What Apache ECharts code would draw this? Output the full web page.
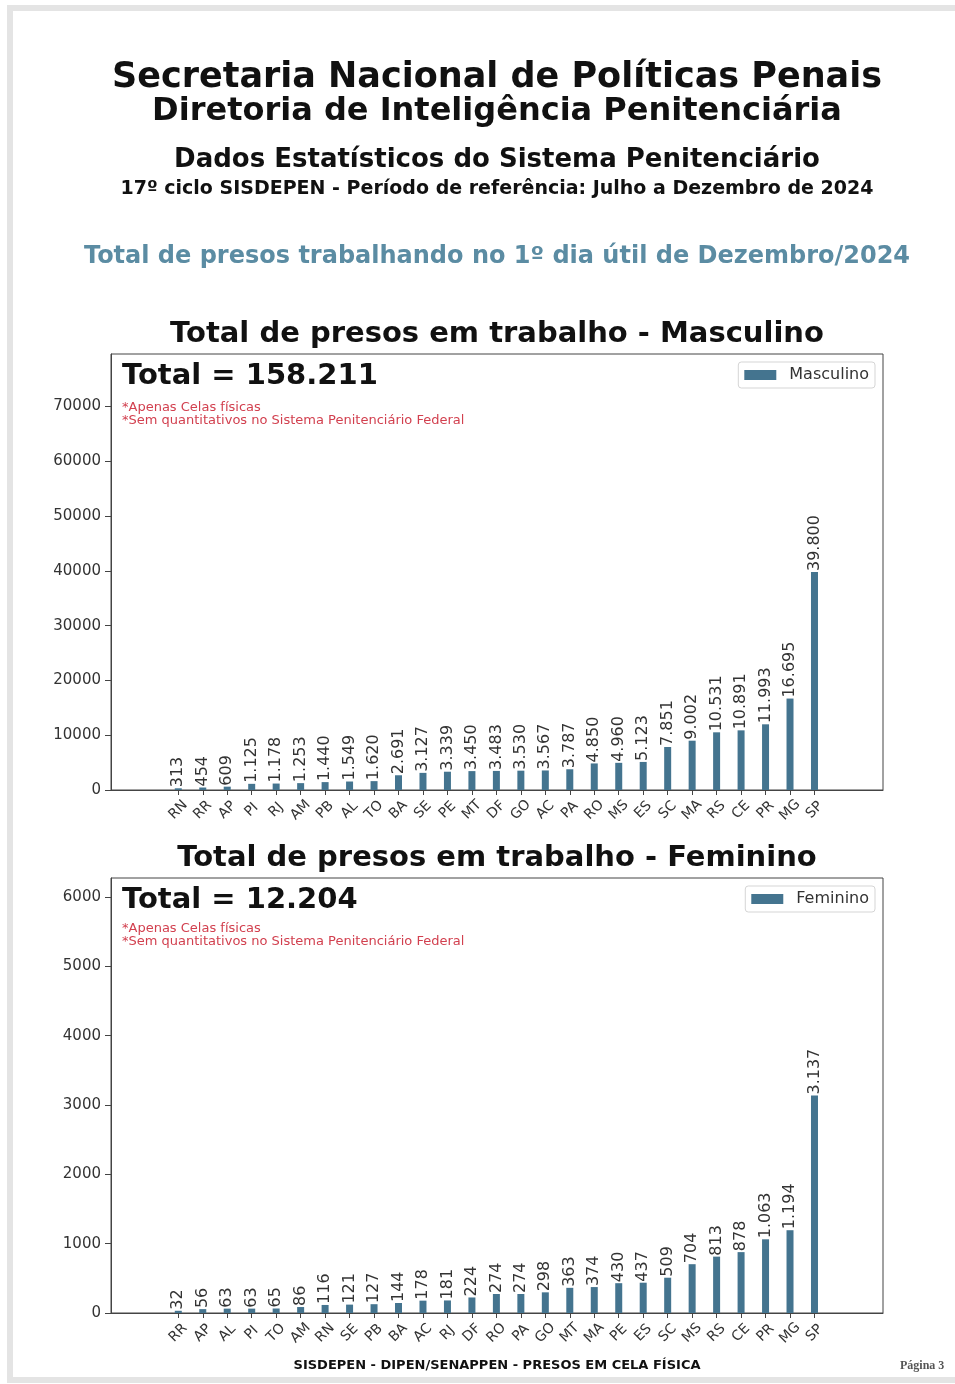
<!DOCTYPE html>
<html>
<head>
<meta charset="utf-8">
<script src="https://cdn.jsdelivr.net/npm/echarts@6/dist/echarts.min.js"></script>
<style>
html,body{margin:0;padding:0;background:#fff;}
#c{width:955px;height:1384px;}
</style>
</head>
<body>
<div id="c"></div>
<script>
// ---- data ----
const mascCategories = ['RN','RR','AP','PI','RJ','AM','PB','AL','TO','BA','SE','PE','MT','DF','GO','AC','PA','RO','MS','ES','SC','MA','RS','CE','PR','MG','SP'];
const mascValues = [313,454,609,1125,1178,1253,1440,1549,1620,2691,3127,3339,3450,3483,3530,3567,3787,4850,4960,5123,7851,9002,10531,10891,11993,16695,39800];
const femCategories = ['RR','AP','AL','PI','TO','AM','RN','SE','PB','BA','AC','RJ','DF','RO','PA','GO','MT','MA','PE','ES','SC','MS','RS','CE','PR','MG','SP'];
const femValues = [32,56,63,63,65,86,116,121,127,144,178,181,224,274,274,298,363,374,430,437,509,704,813,878,1063,1194,3137];
const mascYTicks = [0,10000,20000,30000,40000,50000,60000,70000];
const femYTicks = [0,1000,2000,3000,4000,5000,6000];
const headerLines = [
  'Secretaria Nacional de Políticas Penais',
  'Diretoria de Inteligência Penitenciária',
  'Dados Estatísticos do Sistema Penitenciário',
  '17º ciclo SISDEPEN - Período de referência: Julho a Dezembro de 2024'
];
const sectionTitle = 'Total de presos trabalhando no 1º dia útil de Dezembro/2024';
const mascTitle = 'Total de presos em trabalho - Masculino';
const femTitle = 'Total de presos em trabalho - Feminino';
const notes = ['*Apenas Celas físicas', '*Sem quantitativos no Sistema Penitenciário Federal'];
const footer = 'SISDEPEN - DIPEN/SENAPPEN - PRESOS EM CELA FÍSICA';
const pageLabel = 'Página 3';

// ---- helpers ----
const FONT = "'DejaVu Sans', sans-serif";
const BAR = '#44748f';
const AXIS = '#444';
const fmt = v => String(v).replace(/\B(?=(\d{3})+(?!\d))/g, '.');
const sum = a => a.reduce((s, v) => s + v, 0);
const idx = a => a.map((_, i) => i);

function txt(x, y, text, size, opts) {
  opts = opts || {};
  return {
    type: 'text', x: x, y: y, silent: true,
    style: {
      text: text, fontSize: size, fontFamily: opts.family || FONT,
      fontWeight: opts.weight || 'bold', fill: opts.fill || '#111',
      align: opts.align || 'center', verticalAlign: 'middle'
    }
  };
}

function xAxisFor(gridIndex, cats) {
  return {
    type: 'value', gridIndex: gridIndex, min: -2.75, max: cats.length - 1 + 2.8,
    splitLine: { show: false },
    axisLine: { show: true, onZero: false, lineStyle: { color: AXIS, width: 1 } },
    axisTick: { show: true, length: 5, customValues: idx(cats), lineStyle: { color: AXIS } },
    axisLabel: {
      customValues: idx(cats), rotate: 45, align: 'center', verticalAlign: 'middle',
      margin: 20, fontSize: 14, color: '#333', fontFamily: FONT,
      formatter: v => cats[Math.round(v)]
    }
  };
}
function yAxisFor(gridIndex, values, ticks) {
  return {
    type: 'value', gridIndex: gridIndex, min: 0, max: Math.max.apply(null, values) * 2,
    splitLine: { show: false },
    axisLine: { show: true, onZero: false, lineStyle: { color: AXIS, width: 1 } },
    axisTick: { show: true, length: 6, customValues: ticks, lineStyle: { color: AXIS } },
    axisLabel: { customValues: ticks, fontSize: 15, color: '#333', fontFamily: FONT, margin: 10,
      formatter: v => String(v) }
  };
}
function barSeries(name, i, values) {
  return {
    type: 'bar', name: name, xAxisIndex: i, yAxisIndex: i, barWidth: 7,
    itemStyle: { color: BAR },
    data: values.map((v, k) => [k, v])
  };
}
function labelSeries(i, values) {
  return {
    type: 'custom', xAxisIndex: i, yAxisIndex: i, silent: true, z: 5,
    data: values.map((v, k) => [k, v]),
    renderItem: function (params, api) {
      const pt = api.coord([api.value(0), api.value(1)]);
      return {
        type: 'text', x: pt[0], y: pt[1] - 1, rotation: Math.PI / 2,
        style: { text: fmt(api.value(1)), fontSize: 16, fontFamily: FONT, fill: '#333',
          align: 'left', verticalAlign: 'middle' }
      };
    }
  };
}
function legendFor(name, top) {
  return {
    data: [name], right: 80, top: top, orient: 'horizontal',
    itemWidth: 32, itemHeight: 10, icon: 'rect', itemGap: 8,
    padding: [5, 6, 5, 6], borderColor: '#d5d5d5', borderWidth: 1, borderRadius: 3,
    backgroundColor: '#fff',
    textStyle: { fontSize: 16, color: '#333', fontFamily: FONT, padding: [0, 0, 0, 8] }
  };
}

const chart = echarts.init(document.getElementById('c'), null, { renderer: 'canvas' });
chart.setOption({
  animation: false,
  backgroundColor: '#fff',
  grid: [
    { left: 111, right: 72, top: 354, bottom: 594, show: true, borderColor: AXIS, borderWidth: 1, backgroundColor: 'transparent' },
    { left: 111, right: 72, top: 878, bottom: 71, show: true, borderColor: AXIS, borderWidth: 1, backgroundColor: 'transparent' }
  ],
  legend: [legendFor('Masculino', 362), legendFor('Feminino', 886)],
  xAxis: [xAxisFor(0, mascCategories), xAxisFor(1, femCategories)],
  yAxis: [yAxisFor(0, mascValues, mascYTicks), yAxisFor(1, femValues, femYTicks)],
  series: [
    barSeries('Masculino', 0, mascValues), barSeries('Feminino', 1, femValues),
    labelSeries(0, mascValues), labelSeries(1, femValues)
  ],
  graphic: [
    { type: 'rect', silent: true, z: -10, shape: { x: 10, y: 8, width: 960, height: 1372 },
      style: { fill: 'none', stroke: '#e4e4e4', lineWidth: 6 } },
    txt(497, 78, headerLines[0], 35),
    txt(497, 112, headerLines[1], 32),
    txt(497, 160, headerLines[2], 26),
    txt(497, 189, headerLines[3], 19),
    txt(497, 257, sectionTitle, 24, { fill: '#5b8ca3' }),
    txt(497, 334, mascTitle, 29),
    txt(122, 376, 'Total = ' + fmt(sum(mascValues)), 29, { align: 'left' }),
    txt(122, 408, notes[0], 13, { align: 'left', weight: 'normal', fill: '#d2404f' }),
    txt(122, 421, notes[1], 13, { align: 'left', weight: 'normal', fill: '#d2404f' }),
    txt(497, 858, femTitle, 29),
    txt(122, 900, 'Total = ' + fmt(sum(femValues)), 29, { align: 'left' }),
    txt(122, 929, notes[0], 13, { align: 'left', weight: 'normal', fill: '#d2404f' }),
    txt(122, 942, notes[1], 13, { align: 'left', weight: 'normal', fill: '#d2404f' }),
    txt(497, 1366, footer, 13),
    txt(900, 1366, pageLabel, 12, { align: 'left', weight: 'bold', fill: '#555', family: "'Liberation Serif', serif" })
  ]
});
</script>
</body>
</html>
